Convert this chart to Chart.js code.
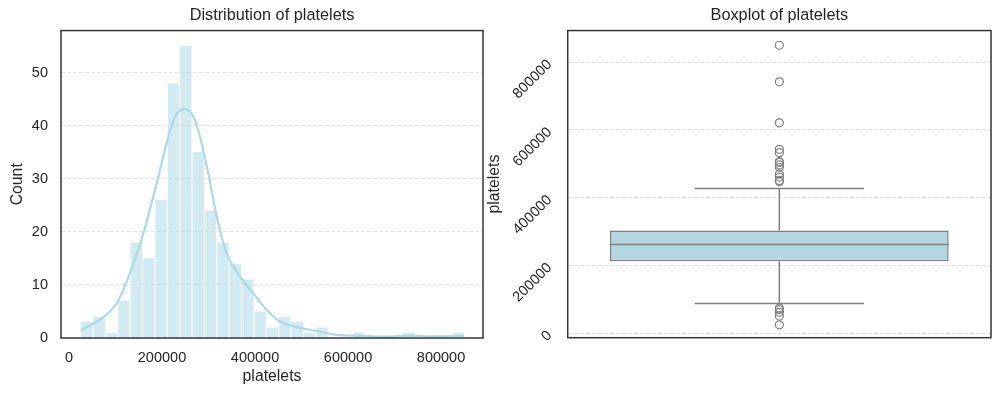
<!DOCTYPE html>
<html lang="en">
<head>
    <meta charset="UTF-8">
    <script src="https://cdn.jsdelivr.net/npm/chart.js@4.4.1/dist/chart.umd.min.js"></script>
    <title>platelets</title>
    <style>
        body { margin: 0; background: #fff; width: 1000px; height: 396px; overflow: hidden; position: relative; }
        canvas { position: absolute; top: 0; }
        #hist { left: 0; }
        #box { left: 480px; }
    </style>
</head>
<body>
    <canvas id="hist" width="486" height="396"></canvas>
    <canvas id="box" width="520" height="396"></canvas>
    <script>
        // histogram: 31 equal bins between min and max of platelets
        const binMin = 25100;
        const binMax = 850000;
        const counts = [3, 4, 1, 7, 18, 15, 26, 48, 55, 35, 24, 18, 14, 11, 5, 2, 4, 3, 1, 2, 0, 0, 1, 0, 0, 0, 1, 0, 0, 0, 1];

        // kde curve (scaled to counts)
        const kdeX = [25100, 50000, 73800, 102500, 131200, 159800, 188500, 210000, 228000, 249500, 267400, 281700, 299600, 317600, 339100, 367700, 396400, 425100, 453800, 496800, 539800, 575700, 625800, 683200, 733300, 783400, 850000];
        const kdeY = [1.5, 2.6, 3.9, 6.5, 12.2, 19.7, 29.1, 36.7, 41.7, 43.1, 41.7, 37.9, 31, 22.9, 15.9, 11.6, 8.4, 5.3, 3.1, 1.9, 1.2, 0.6, 0.4, 0.25, 0.45, 0.3, 0.4];

        // boxplot
        const q1 = 212500;
        const median = 262000;
        const q3 = 303500;
        const whiskerLo = 88000;
        const whiskerHi = 427000;
        const outliers = [25100, 51000, 62000, 70000, 75000, 448000, 451000, 461000, 470000, 490000, 497000, 504000, 507000, 533000, 543000, 621000, 742000, 850000];

        const xTicks = [0, 200000, 400000, 600000, 800000];
        const boxTicks = [0, 200000, 400000, 600000, 800000];

        Chart.defaults.font.family = '"Liberation Sans", Arial, sans-serif';
        Chart.defaults.color = '#262626';
        Chart.defaults.animation = false;

        const tickFont = { size: 14.5 };
        const labelFont = { size: 15.8 };
        const gridColor = '#e3e3e3';

        const frame = {
            id: 'frame',
            afterDraw(chart) {
                const a = chart.chartArea, c = chart.ctx;
                c.save();
                c.strokeStyle = '#333333';
                c.lineWidth = 1.5;
                c.strokeRect(a.left, a.top, a.right - a.left, a.bottom - a.top);
                c.restore();
            }
        };

        const binWidth = (binMax - binMin) / counts.length;
        const histData = counts.map((c, i) => ({ x: binMin + (i + 0.5) * binWidth, y: c }));
        const kdeData = kdeX.map((x, i) => ({ x: x, y: kdeY[i] }));

        new Chart(document.getElementById('hist'), {
            type: 'bar',
            data: {
                datasets: [{
                    type: 'line',
                    data: kdeData,
                    borderColor: '#add8e6',
                    borderWidth: 2.2,
                    pointRadius: 0,
                    cubicInterpolationMode: 'monotone',
                    order: 1
                }, {
                    data: histData,
                    backgroundColor: 'rgba(173, 216, 230, 0.55)',
                    barPercentage: 0.92,
                    categoryPercentage: 1,
                    order: 2
                }]
            },
            options: {
                responsive: false,
                devicePixelRatio: 1,
                layout: { padding: { left: 0, right: 3, top: 0, bottom: 0 } },
                plugins: {
                    legend: { display: false },
                    tooltip: { enabled: false },
                    title: {
                        display: true, text: 'Distribution of platelets', fullSize: false,
                        font: { size: 16.3, weight: 'normal' }, color: '#262626',
                        padding: { top: 6, bottom: 5 }
                    }
                },
                scales: {
                    x: {
                        type: 'linear', min: -17200, max: 890300, offset: false,
                        afterBuildTicks: s => { s.ticks = xTicks.map(v => ({ value: v })); },
                        afterFit: s => { s.height = 58; },
                        grid: { display: false, drawTicks: false },
                        border: { display: false },
                        ticks: { font: tickFont, padding: 11, maxRotation: 0, callback: v => String(v) },
                        title: { display: true, text: 'platelets', font: labelFont, padding: { top: 0, bottom: 10 } }
                    },
                    y: {
                        min: 0, max: 57.9,
                        ticks: { stepSize: 10, includeBounds: false, font: tickFont, padding: 13 },
                        afterFit: s => { s.width = 61; },
                        grid: { color: c => c.tick && c.tick.value === 0 ? 'rgba(0,0,0,0)' : gridColor, lineWidth: 1, drawTicks: false },
                        border: { display: false, dash: [4, 2] },
                        title: { display: true, text: 'Count', font: labelFont, padding: { top: 8, bottom: 0 } }
                    }
                }
            },
            plugins: [frame]
        });

        const boxParts = {
            id: 'boxParts',
            afterDatasetsDraw(chart) {
                const bar = chart.getDatasetMeta(0).data[0];
                const y = chart.scales.y;
                const c = chart.ctx;
                const cx = bar.x, half = bar.width / 2;
                c.save();
                c.strokeStyle = '#7f7f7f';
                c.lineWidth = 1.5;
                c.beginPath();
                c.moveTo(cx, y.getPixelForValue(q3)); c.lineTo(cx, y.getPixelForValue(whiskerHi));
                c.moveTo(cx, y.getPixelForValue(q1)); c.lineTo(cx, y.getPixelForValue(whiskerLo));
                c.moveTo(cx - half / 2, y.getPixelForValue(whiskerHi)); c.lineTo(cx + half / 2, y.getPixelForValue(whiskerHi));
                c.moveTo(cx - half / 2, y.getPixelForValue(whiskerLo)); c.lineTo(cx + half / 2, y.getPixelForValue(whiskerLo));
                c.moveTo(cx - half, y.getPixelForValue(median)); c.lineTo(cx + half, y.getPixelForValue(median));
                c.stroke();
                c.restore();
            }
        };

        new Chart(document.getElementById('box'), {
            type: 'bar',
            data: {
                labels: ['platelets'],
                datasets: [{
                    data: [[q1, q3]],
                    backgroundColor: '#b4d6e0',
                    borderColor: '#7f7f7f',
                    borderWidth: 1.5,
                    borderSkipped: false,
                    barPercentage: 0.8,
                    categoryPercentage: 1
                }, {
                    type: 'line',
                    showLine: false,
                    data: outliers.map(v => ({ x: 'platelets', y: v })),
                    pointRadius: 4,
                    pointBackgroundColor: 'rgba(0,0,0,0)',
                    pointBorderColor: '#7f7f7f',
                    pointBorderWidth: 1.2
                }]
            },
            options: {
                responsive: false,
                devicePixelRatio: 1,
                layout: { padding: { left: 0, right: 9, top: 0, bottom: 58.3 } },
                plugins: {
                    legend: { display: false },
                    tooltip: { enabled: false },
                    title: {
                        display: true, text: 'Boxplot of platelets', fullSize: false,
                        font: { size: 16.3, weight: 'normal' }, color: '#262626',
                        padding: { top: 6, bottom: 5 }
                    }
                },
                scales: {
                    x: { display: false },
                    y: {
                        min: -13000, max: 893400,
                        afterBuildTicks: s => { s.ticks = boxTicks.map(v => ({ value: v })); },
                        ticks: { font: tickFont, padding: 18, minRotation: 45, maxRotation: 45, callback: v => String(v) },
                        afterFit: s => { s.width = 87.7; },
                        grid: { color: gridColor, lineWidth: 1, drawTicks: false },
                        border: { display: false, dash: [4, 2] },
                        title: { display: true, text: 'platelets', font: labelFont, padding: { top: 5.5, bottom: 0 } }
                    }
                }
            },
            plugins: [frame, boxParts]
        });
    </script>
</body>
</html>
